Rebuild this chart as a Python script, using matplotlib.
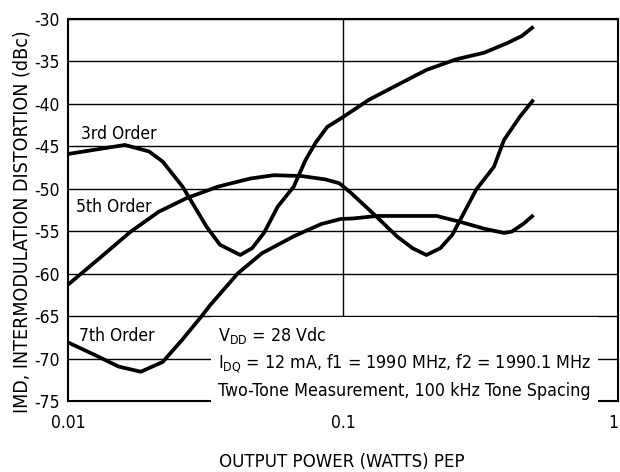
import matplotlib
matplotlib.use("Agg")
import matplotlib.pyplot as plt

# values
p3 = [0.01, 0.0161, 0.0197, 0.0221, 0.0261, 0.0319, 0.0357, 0.0423, 0.0467, 0.0516,
      0.0579, 0.0662, 0.0731, 0.0794, 0.0877, 0.0984, 0.1245, 0.157, 0.201, 0.258,
      0.326, 0.398, 0.447, 0.493]
imd3 = [-45.9, -44.84, -45.6, -46.8, -49.75, -54.46, -56.6, -57.8, -57.0, -55.2,
        -52.1, -49.75, -46.6, -44.6, -42.7, -41.7, -39.5, -37.8, -36.0, -34.75,
        -33.97, -32.8, -32.0, -30.9]

p5 = [0.01, 0.013, 0.0169, 0.0214, 0.027, 0.0351, 0.0459, 0.056, 0.0707, 0.0864,
      0.097, 0.107, 0.1286, 0.157, 0.179, 0.201, 0.226, 0.25, 0.305, 0.354,
      0.385, 0.44, 0.493]
imd5 = [-61.3, -58.2, -55.05, -52.7, -51.1, -49.75, -48.8, -48.4, -48.5, -48.9,
        -49.35, -50.5, -52.9, -55.6, -57.0, -57.8, -57.0, -55.4, -50.1, -47.4,
        -44.25, -41.5, -39.5]

p7 = [0.01, 0.01256, 0.0153, 0.0184, 0.0221, 0.026, 0.0308, 0.0329, 0.0415, 0.0507,
      0.0662, 0.0834, 0.0984, 0.1087, 0.133, 0.219, 0.267, 0.326, 0.385, 0.411,
      0.454, 0.493]
imd7 = [-68.1, -69.6, -70.95, -71.55, -70.4, -67.8, -64.9, -63.7, -59.95, -57.6,
        -55.6, -54.15, -53.55, -53.5, -53.2, -53.2, -53.9, -54.7, -55.2, -55.05,
        -54.1, -53.1]

y_ticks = [-30, -35, -40, -45, -50, -55, -60, -65, -70, -75]
y_tick_labels = ["-30", "-35", "-40", "-45", "-50", "-55", "-60", "-65", "-70", "-75"]
x_ticks = [0.01, 0.1, 1]
x_tick_labels = ["0.01", "0.1", "1"]

plt.rcParams["font.family"] = ["DejaVu Sans"]
plt.rcParams["font.stretch"] = "condensed"
plt.rcParams["font.size"] = 12.5

fig = plt.figure(figsize=(6.2, 4.72), dpi=100)
ax = fig.add_axes([68 / 620, 1 - 401 / 472, 550 / 620, 382 / 472])

ax.set_xscale("log")
ax.set_xlim(0.01, 1)
ax.set_ylim(-75, -30)

for y in y_ticks:
    ax.axhline(y, color="black", lw=1.0, zorder=1)
ax.axvline(0.1, color="black", lw=1.0, zorder=1)

ax.plot(p3, imd3, color="black", lw=2.7, zorder=3, solid_capstyle="butt")
ax.plot(p5, imd5, color="black", lw=2.7, zorder=3, solid_capstyle="butt")
ax.plot(p7, imd7, color="black", lw=2.7, zorder=3, solid_capstyle="butt")

ax.set_xticks(x_ticks)
ax.set_xticklabels(x_tick_labels)
ax.get_xticklabels()[-1].set_ha("right")
ax.set_yticks(y_ticks)
ax.set_yticklabels(y_tick_labels)
ax.minorticks_off()
ax.tick_params(axis="y", length=0, pad=6)
ax.tick_params(axis="x", length=0, pad=9)
for s in ax.spines.values():
    s.set_linewidth(1.5)

ax.text(0.01115, -43.6, "3rd Order", ha="left", va="center")
ax.text(0.01065, -52.2, "5th Order", ha="left", va="center")
ax.text(0.01093, -67.3, "7th Order", ha="left", va="center")

note = ("V$_{\\mathregular{DD}}$ = 28 Vdc\n"
        "I$_{\\mathregular{DQ}}$ = 12 mA, f1 = 1990 MHz, f2 = 1990.1 MHz\n"
        "Two-Tone Measurement, 100 kHz Tone Spacing")
ax.text(0.035, -66.0, note, ha="left", va="top", linespacing=1.45, fontsize=12.8,
        zorder=4, bbox=dict(facecolor="white", edgecolor="none", pad=5))

fig.text(22 / 620, 1 - 222 / 472, "IMD, INTERMODULATION DISTORTION (dBc)",
         rotation=90, ha="center", va="center", fontsize=14)
fig.text(342 / 620, 1 - 462 / 472, "OUTPUT POWER (WATTS) PEP",
         ha="center", va="center", fontsize=13.3)

fig.savefig("out.png", dpi=100)
